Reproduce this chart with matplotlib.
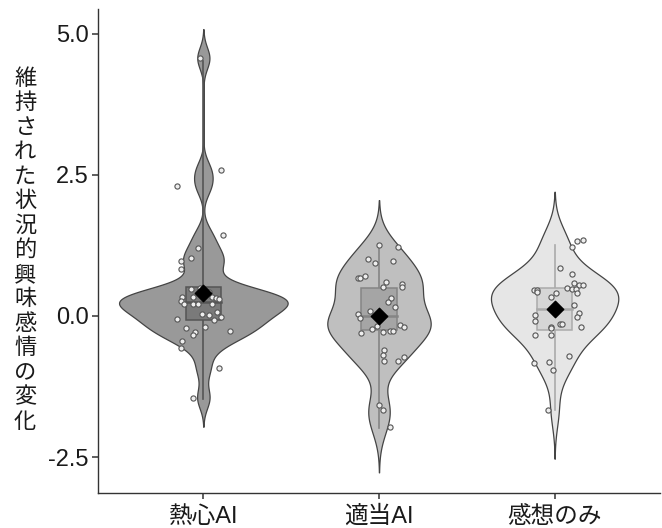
import numpy as np
import matplotlib
matplotlib.use("Agg")
import matplotlib.pyplot as plt

plt.rcParams['font.family'] = ['Liberation Sans', 'Noto Sans CJK JP', 'DejaVu Sans']

# 群の名前と軸ラベル
groups = ['熱心AI', '適当AI', '感想のみ']
ylabel = '維持された状況的興味感情の変化'

# 各参加者の値 (x はジッターのずれ)
vals_1 = [4.57, 2.58, 2.30, 1.44, 1.21, 0.975, 1.02, 0.83, 0.47, 0.50, 0.43, 0.33,
          0.34, 0.34, 0.32, 0.30, 0.27, 0.21, 0.21, 0.21, 0.22, 0.07, 0.04, 0.01,
          -0.01, -0.07, -0.05, -0.20, -0.22, -0.26, -0.29, -0.34, -0.44, -0.57,
          -0.93, -1.45]
jit_1 = [-0.02, 0.10, -0.15, 0.11, -0.03, -0.13, -0.07, -0.13, -0.07, -0.02, 0.03,
         -0.12, -0.06, 0.05, 0.07, 0.09, -0.13, -0.11, -0.06, -0.03, 0.05, 0.08,
         -0.01, 0.03, 0.10, 0.06, -0.15, 0.01, -0.10, 0.15, -0.05, -0.06, -0.12,
         -0.13, 0.09, -0.06]

vals_2 = [1.25, 1.22, 1.01, 0.93, 0.98, 0.67, 0.67, 0.70, 0.60, 0.51, 0.57, 0.52,
          0.32, 0.24, 0.15, 0.08, 0.04, -0.04, -0.17, -0.16, -0.20, -0.23, -0.31,
          -0.28, -0.27, -0.27, -0.60, -0.69, -0.79, -0.80, -0.73, -1.58, -1.66,
          -1.97]
jit_2 = [0.0, 0.11, -0.06, -0.02, 0.08, -0.12, -0.11, -0.08, 0.04, 0.02, 0.13, 0.13,
         0.07, 0.05, 0.09, -0.05, -0.12, -0.11, -0.01, 0.12, 0.14, -0.04, -0.10,
         0.02, 0.06, 0.08, 0.03, 0.02, 0.03, 0.11, 0.14, 0.0, 0.02, 0.06]

vals_3 = [1.32, 1.34, 1.22, 0.85, 0.74, 0.59, 0.55, 0.54, 0.46, 0.46, 0.43, 0.50,
          0.47, 0.48, 0.41, 0.41, 0.34, 0.19, 0.12, 0.05, -0.01, 0.01, -0.09,
          -0.15, -0.15, -0.20, -0.22, -0.20, -0.34, -0.33, -0.71, -0.83, -0.82,
          -0.95, -1.67]
jit_3 = [0.13, 0.16, 0.10, 0.03, 0.10, 0.11, 0.14, 0.16, -0.12, -0.10, -0.10, 0.07,
         0.10, 0.12, 0.01, 0.13, -0.02, 0.11, 0.01, 0.14, 0.13, -0.11, -0.11,
         0.03, 0.04, -0.02, -0.02, 0.15, -0.11, -0.02, 0.08, -0.12, -0.03, -0.01,
         -0.04]

# 箱ひげ図の要約値と平均
q1 = [-0.07, -0.24, -0.24]
med = [0.25, 0.0, 0.12]
q3 = [0.51, 0.50, 0.50]
lo = [-1.48, -1.99, -1.67]
hi = [4.52, 1.26, 1.25]
means = [0.40, 0.0, 0.12]

# バンド幅の調整
bw_adjust = [1.0, 1.0, 1.4]

violin_fill = ['#999999', '#bfbfbf', '#e6e6e6']
box_fill = ['#7a7a7a', '#a5a5a5', '#d6d6d6']
box_edge = ['#555555', '#858585', '#aaaaaa']

all_vals = [vals_1, vals_2, vals_3]
all_jit = [jit_1, jit_2, jit_3]


def bw_nrd0(x):
    x = np.asarray(x)
    sd = np.std(x, ddof=1)
    iqr = np.subtract(*np.percentile(x, [75, 25]))
    lo_ = min(sd, iqr / 1.34) if iqr > 0 else sd
    return 0.9 * lo_ * len(x) ** -0.2


def kde(x, bw, cut=2.7):
    x = np.asarray(x)
    grid = np.linspace(x.min() - cut * bw, x.max() + cut * bw, 512)
    d = np.exp(-0.5 * ((grid[:, None] - x[None, :]) / bw) ** 2).sum(axis=1)
    d /= len(x) * bw * np.sqrt(2 * np.pi)
    return grid, d


dens = [kde(v, bw_nrd0(v) * a) for v, a in zip(all_vals, bw_adjust)]
dmax = max(d.max() for _, d in dens)
half_width = 0.48

fig = plt.figure(figsize=(6.62, 5.28), dpi=100)
ax = fig.add_axes([0.148, 0.066, 0.849, 0.917])

for i, (grid, d) in enumerate(dens):
    pos = i + 1
    w = d / dmax * half_width
    ax.fill_betweenx(grid, pos - w, pos + w, facecolor=violin_fill[i],
                     edgecolor='#444444', linewidth=0.9, zorder=1)
    # ひげ
    ax.plot([pos, pos], [q3[i], hi[i]], color=box_edge[i], lw=1.2, zorder=2)
    ax.plot([pos, pos], [lo[i], q1[i]], color=box_edge[i], lw=1.2, zorder=2)
    # 箱
    ax.add_patch(plt.Rectangle((pos - 0.1, q1[i]), 0.2, q3[i] - q1[i],
                               facecolor=box_fill[i], edgecolor=box_edge[i],
                               linewidth=1.1, zorder=3))
    ax.plot([pos - 0.1, pos + 0.1], [med[i], med[i]], color=box_edge[i],
            lw=1.8, zorder=3)
    # 個々の点
    ax.scatter(pos + np.array(all_jit[i]), all_vals[i], s=14, facecolor='#eeeeee',
               edgecolor='#555555', linewidth=0.8, zorder=4)
    # 平均
    ax.scatter([pos], [means[i]], marker='D', s=70, color='black', zorder=5)

ax.set_xlim(0.4, 3.6)
ax.set_ylim(-3.14, 5.44)
ax.set_xticks([1, 2, 3])
ax.set_xticklabels(groups, fontsize=17)
ax.set_yticks([-2.5, 0.0, 2.5, 5.0])
ax.set_yticklabels(['-2.5', '0.0', '2.5', '5.0'], fontsize=17)
ax.tick_params(length=4, width=1.1, color='#333333', labelcolor='#1a1a1a', pad=2.5)
ax.tick_params(axis='x', pad=5)

for s in ['top', 'right']:
    ax.spines[s].set_visible(False)
for s in ['left', 'bottom']:
    ax.spines[s].set_color('#333333')
    ax.spines[s].set_linewidth(1.0)

fig.text(0.038, 0.527, '\n'.join(ylabel), ha='center', va='center', fontsize=16,
         linespacing=1.085, family=['Noto Sans CJK JP'], color='#1a1a1a')

fig.savefig('out.png', dpi=100)
